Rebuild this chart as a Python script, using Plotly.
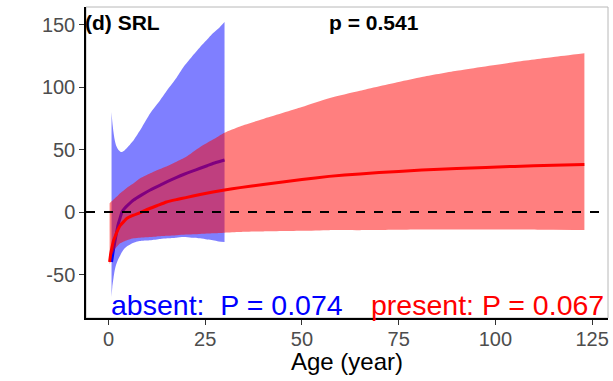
import plotly.graph_objects as go

# ---- data ----
absent_x = [0.8, 1.0, 1.3, 1.6, 2.0, 2.5, 3.0, 3.5, 4.2, 5.0, 6.5, 8.5, 10.8, 13.4, 15.2, 17.5, 19.4, 21.5, 23.7, 25.5, 27.0, 28.5, 30.0]
absent_upper = [80, 72, 64, 58, 53, 50, 48.5, 48, 49.5, 52, 57.5, 67, 79, 89.6, 97.6, 107, 116, 124, 132, 138, 143, 147, 152]
absent_lower = [-68, -60, -53, -47, -42, -38, -35, -32, -29, -27, -24.5, -23, -22.5, -21.5, -21, -20.5, -20, -20.5, -21, -22, -22.5, -23.5, -24]
absent_fit = [-40, -36, -30, -25, -18, -10, -5, 0, 3, 5.5, 9.6, 13.5, 17.6, 21.5, 24.3, 27.5, 30, 32.5, 35, 37, 38.8, 40.2, 41.6]

present_x = [0.3, 0.6, 1.0, 1.3, 1.8, 2.4, 3.0, 4.0, 4.8, 6.5, 8.2, 10.8, 12.5, 15.0, 17.7, 20.0, 23.7, 27.0, 30.0, 34.0, 40.0, 50.0, 57.0, 65.0, 75.0, 81.0, 90.0, 105.0, 115.0, 123.0]
present_upper = [7, 8, 9, 10, 11.5, 13, 15, 17.5, 19.5, 23, 27, 31, 33.5, 36.5, 40.5, 44, 52, 58, 63.5, 68.5, 74.5, 84, 91, 97, 104, 108, 113, 120, 124, 127]
present_lower = [-42, -38, -34, -32, -29, -27, -25, -23.5, -22.5, -21, -20.5, -20, -19.5, -19, -18.5, -18, -17.5, -17, -16.5, -16, -15.5, -15, -14.5, -14.5, -14.2, -14, -14, -14, -14.2, -14.4]
present_fit = [-40, -33, -27, -23, -19, -14.5, -11, -7.5, -5, -2.5, -0.5, 3, 5, 8, 10, 11.5, 14, 16, 17.6, 19.5, 22, 26, 28.5, 30.5, 32.5, 33.6, 34.8, 36.5, 37.4, 38]

x_ticks = [0, 25, 50, 75, 100, 125]
y_ticks = [-50, 0, 50, 100, 150]

FONT = "Liberation Sans, Arial, sans-serif"

fig = go.Figure()


def ribbon(x, lo, hi, color):
    fig.add_trace(go.Scatter(x=x, y=lo, mode="lines", line=dict(width=0, shape="spline", smoothing=0.6),
                             hoverinfo="skip", showlegend=False))
    fig.add_trace(go.Scatter(x=x, y=hi, mode="lines", line=dict(width=0, shape="spline", smoothing=0.6),
                             fill="tonexty", fillcolor=color, hoverinfo="skip", showlegend=False))


# absent ribbon + fit
ribbon(absent_x, absent_lower, absent_upper, "rgba(0,0,255,0.5)")
fig.add_trace(go.Scatter(
    x=absent_x, y=absent_fit, mode="lines",
    line=dict(color="rgb(0,0,255)", width=3, shape="spline", smoothing=0.5), showlegend=False))

# present ribbon + fit
ribbon(present_x, present_lower, present_upper, "rgba(255,0,0,0.5)")
fig.add_trace(go.Scatter(
    x=present_x, y=present_fit, mode="lines",
    line=dict(color="rgb(255,0,0)", width=3, shape="spline", smoothing=0.5), showlegend=False))

# zero reference line
fig.add_hline(y=0, line=dict(color="black", width=1.8, dash="dash"))

# light grey frame (top/right)
fig.add_shape(type="rect", xref="paper", yref="paper", x0=0, x1=1, y0=0, y1=1,
              line=dict(color="#b8b8b8", width=1), layer="below")

fig.add_annotation(x=0, y=1, xref="paper", yref="paper", xanchor="left", yanchor="top",
                   text="<b>(d) SRL</b>", showarrow=False, yshift=-2, xshift=-3,
                   font=dict(family=FONT, size=21, color="black"))
fig.add_annotation(x=0.552, y=1, xref="paper", yref="paper", xanchor="center", yanchor="top",
                   text="<b>p = 0.541</b>", showarrow=False, yshift=-2,
                   font=dict(family=FONT, size=21, color="black"))
fig.add_annotation(x=0.044, y=0, xref="paper", yref="paper", xanchor="left", yanchor="bottom",
                   text="absent:\u00a0 P = 0.074", showarrow=False, yshift=-5,
                   font=dict(family=FONT, size=28.5, color="rgb(0,0,255)"))
fig.add_annotation(x=0.996, y=0, xref="paper", yref="paper", xanchor="right", yanchor="bottom",
                   text="present: P = 0.067", showarrow=False, yshift=-5,
                   font=dict(family=FONT, size=28.5, color="rgb(255,0,0)"))
# x-axis title
fig.add_annotation(x=(347 - 86) / 522, y=(318 - 361) / 311, xref="paper", yref="paper",
                   xanchor="center", yanchor="middle", text="Age (year)", showarrow=False,
                   font=dict(family=FONT, size=24, color="black"))

fig.update_layout(
    width=613, height=381,
    margin=dict(l=86, r=5, t=7, b=63),
    paper_bgcolor="white", plot_bgcolor="white",
    font=dict(family=FONT),
    showlegend=False,
)
fig.update_xaxes(
    range=[-5.8, 129.1], tickvals=x_ticks, ticktext=[str(v) for v in x_ticks],
    showgrid=False, zeroline=False, showline=True, linecolor="black", linewidth=1.5,
    ticks="outside", ticklen=5, tickcolor="#333333", tickwidth=1,
    tickfont=dict(family=FONT, size=20, color="#4d4d4d"), ticklabelstandoff=-3,
)
fig.update_yaxes(
    range=[-84.8, 164], tickvals=y_ticks, ticktext=[str(v) for v in y_ticks],
    showgrid=False, zeroline=False, showline=True, linecolor="black", linewidth=1.5,
    ticks="outside", ticklen=5, tickcolor="#333333", tickwidth=1,
    tickfont=dict(family=FONT, size=20, color="#4d4d4d"),
)

fig.write_html("out.html")
